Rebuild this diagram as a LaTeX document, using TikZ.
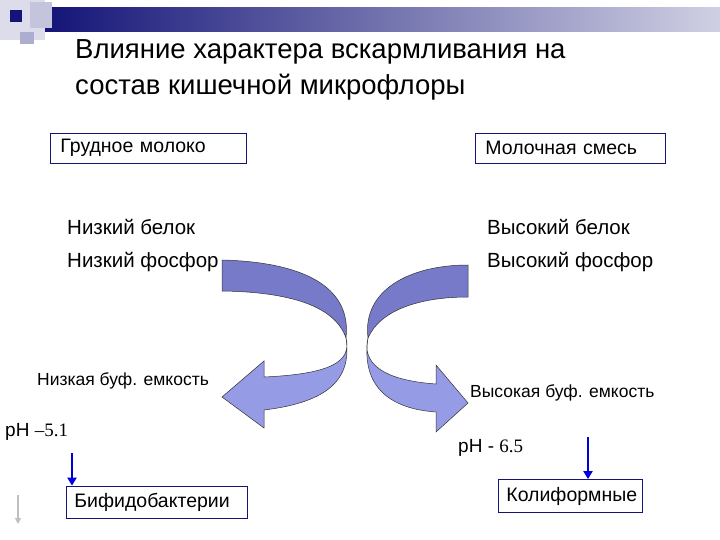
\documentclass[tikz,border=0pt]{standalone}
\usepackage{fontspec}
\setmainfont{Liberation Sans}
\newfontfamily\numfont{Liberation Serif}
\usetikzlibrary{arrows.meta}
\definecolor{navy}{RGB}{20,20,120}
\definecolor{darkband}{RGB}{118,122,200}
\definecolor{lightband}{RGB}{150,155,230}
\begin{document}
\begin{tikzpicture}[x=1pt,y=-1pt,
  boxed/.style={draw=navy,line width=0.8pt,anchor=west,inner sep=0pt,align=left,font=\fontsize{19.5}{22}\selectfont},
  lbl/.style={anchor=west,inner sep=0pt,font=\fontsize{20.5}{24}\selectfont},
  small/.style={anchor=west,inner sep=0pt,font=\fontsize{17.5}{20}\selectfont},
  bluearr/.style={draw=blue!85!black,line width=2.2pt,-{Triangle[length=8pt,width=9pt]}},
  band/.style={draw=black!80,line width=0.5pt}]
\useasboundingbox (0,0) rectangle (720,540);
\fill[white] (0,0) rectangle (720,540);
% decoration
\shade[left color=navy, right color=navy!20] (45,8) rectangle (720,32);
\fill[navy!15] (0,0) rectangle (45,40);
\fill[navy!35] (20,32) rectangle (34,44);
\fill[navy!25] (30,2) rectangle (52,28);
\fill[navy] (10,10) rectangle (22,22);
% title
\node[anchor=west,inner sep=0pt,align=left,font=\fontsize{27.5}{36}\selectfont] (title) at (75,70)
  {Влияние характера вскармливания на\\состав кишечной микрофлоры};
% boxes
\node[boxed,minimum width=196pt,minimum height=30pt,text width=188pt] (breast) at (50,148) {\hspace*{6pt}Грудное молоко};
\node[boxed,minimum width=190pt,minimum height=30pt,text width=182pt] (formula) at (475,148) {\hspace*{6pt}Молочная смесь};
\node[lbl] (lp) at (67,227) {Низкий белок};
\node[lbl] (lf) at (67,262) {Низкий фосфор};
\node[lbl] (hp) at (487,227) {Высокий белок};
\node[lbl] (hf) at (487,262) {Высокий фосфор};
\node[small] (lb) at (37,381) {Низкая буф. емкость};
\node[small] (hb) at (470,393) {Высокая буф. емкость};
\node[lbl,font=\fontsize{19}{22}\selectfont] (ph1) at (5,432) {pH {\numfont –5.1}};
\node[lbl,font=\fontsize{19}{22}\selectfont] (ph2) at (458,448) {pH - {\numfont 6.5}};
\node[boxed,minimum width=181pt,minimum height=32pt,text width=175pt] (bif) at (66,502) {\hspace*{5pt}Бифидобактерии};
\node[boxed,minimum width=144pt,minimum height=33pt,text width=138pt] (col) at (498,496) {\hspace*{5pt}Колиформные};
% left curved arrow
\filldraw[band,fill=lightband] (346,338) .. controls (352,362) and (330,374) .. (264,377)
  -- (264,361) -- (222,397) -- (264,428) -- (264,410)
  .. controls (330,402) and (352,378) .. (346,338) -- cycle;
\filldraw[band,fill=darkband] (222,260) .. controls (300,262) and (352,285) .. (346,338)
  .. controls (335,306) and (290,292) .. (222,291) -- cycle;
% right curved arrow
\filldraw[band,fill=lightband] (368,338) .. controls (362,362) and (380,380) .. (436,384)
  -- (436,365) -- (468,403) -- (436,432) -- (436,412)
  .. controls (380,408) and (362,378) .. (368,338) -- cycle;
\filldraw[band,fill=darkband] (468,265) .. controls (410,265) and (362,290) .. (368,338)
  .. controls (380,310) and (420,297) .. (468,297) -- cycle;
% blue arrows
\coordinate (a1) at (72,453);
\coordinate (a2) at (588,437);
\draw[bluearr] (a1) -- (a1 |- bif.north);
\draw[bluearr] (a2) -- (a2 |- col.north);
\coordinate (g1) at (18,495);
\coordinate (g2) at (18,524);
\draw[gray!50,line width=1.2pt,-{Triangle[length=6pt,width=6pt]}] (g1) -- (g2);
\end{tikzpicture}
\end{document}
